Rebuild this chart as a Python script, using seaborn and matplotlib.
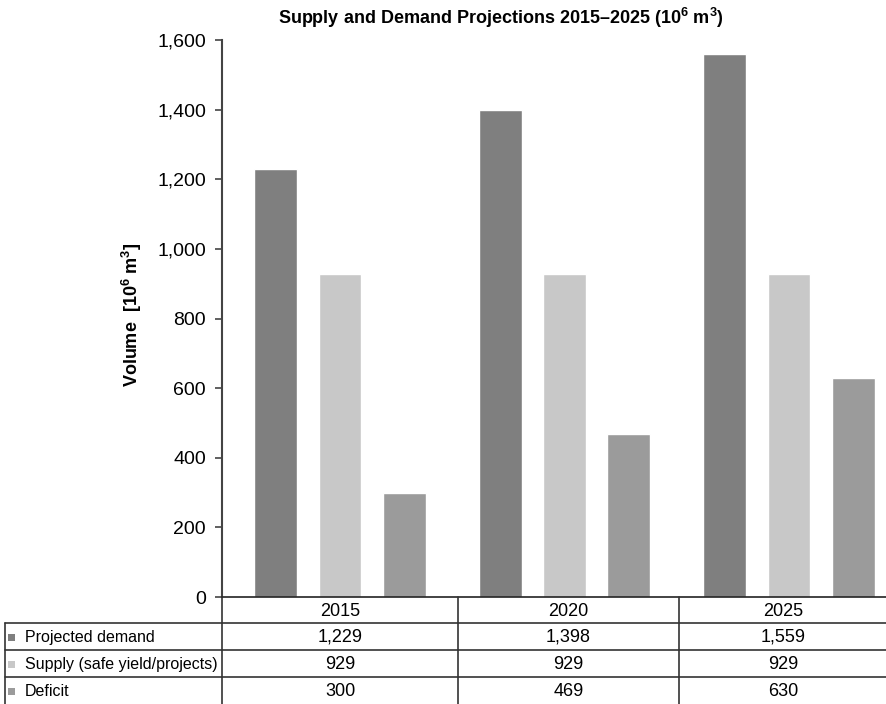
import numpy as np
import pandas as pd
import seaborn as sns
import matplotlib.pyplot as plt
from matplotlib.patches import Rectangle
from matplotlib.ticker import StrMethodFormatter

years = ["2015", "2020", "2025"]
series = ["Projected demand", "Supply (safe yield/projects)", "Deficit"]
demand = [1229, 1398, 1559]
supply = [929, 929, 929]
deficit = [300, 469, 630]
colors = ["#7f7f7f", "#c8c8c8", "#9b9b9b"]

values = [demand, supply, deficit]
df = pd.DataFrame(
    [(y, s, v) for s, vals in zip(series, values) for y, v in zip(years, vals)],
    columns=["Year", "Series", "Volume"],
)

sns.set_style("ticks")
plt.rcParams["font.family"] = ["Liberation Sans", "DejaVu Sans"]
plt.rcParams["text.color"] = "black"
plt.rcParams["ytick.labelcolor"] = "black"
plt.rcParams["mathtext.fontset"] = "custom"
plt.rcParams["mathtext.rm"] = "Liberation Sans"
plt.rcParams["mathtext.bf"] = "Liberation Sans:bold"

W, H = 887, 704
fig = plt.figure(figsize=(W / 100, H / 100), dpi=100)
ax = fig.add_axes([222 / W, 107 / H, 665 / W, 557 / H])

sns.barplot(
    data=df,
    x="Year",
    y="Volume",
    hue="Series",
    palette=colors,
    saturation=1,
    width=0.86,
    gap=0.335,
    legend=False,
    ax=ax,
)

ax.set_xlim(-0.526, 2.437)
ax.set_ylim(0, 1600)
ax.set_yticks(np.arange(0, 1601, 200))
ax.yaxis.set_major_formatter(StrMethodFormatter("{x:,.0f}"))
ax.tick_params(axis="y", labelsize=14, length=5, width=1.2, color="#444444", pad=6.5)
ax.tick_params(axis="x", bottom=False, labelbottom=False)
ax.set_xlabel("")
ax.set_ylabel("")
sns.despine(ax=ax, top=True, right=True)
ax.spines["left"].set_color("#444444")
ax.spines["left"].set_linewidth(1.5)
ax.spines["bottom"].set_color("#222222")
ax.spines["bottom"].set_linewidth(1.2)

fig.text(501 / W, 1 - 18 / H,
         r"Supply and Demand Projections 2015–2025 (10$^{\mathbf{6}}$ m$^{\mathbf{3}}$)",
         ha="center", va="center", fontsize=13, fontweight="bold")
fig.text(132 / W, 1 - 315 / H, r"Volume  [10$^{\mathbf{6}}$ m$^{\mathbf{3}}$]",
         ha="center", va="center", rotation=90, fontsize=13, fontweight="bold")

# data table below the chart
tab = fig.add_axes([0, 0, 1, 1])
tab.set_xlim(0, W)
tab.set_ylim(H, 0)
tab.axis("off")

col_edges = [222, 458, 679, 887]
row_edges = [597, 623, 650, 677, 704]
lc = "#333333"
for yy in row_edges[1:4]:
    tab.plot([5, 887], [yy, yy], color=lc, lw=1.2)
tab.plot([5, 5], [623, 704], color=lc, lw=1.2)
for xx in col_edges[:3]:
    tab.plot([xx, xx], [597, 704], color=lc, lw=1.2)

for j, yr in enumerate(years):
    cx = (col_edges[j] + col_edges[j + 1]) / 2
    tab.text(cx, (row_edges[0] + row_edges[1]) / 2 + 1, yr,
             ha="center", va="center", fontsize=13)
    for i, vals in enumerate(values):
        cy = (row_edges[i + 1] + row_edges[i + 2]) / 2 + 1
        tab.text(cx, cy, f"{vals[j]:,}", ha="center", va="center", fontsize=13)

for i, (name, c) in enumerate(zip(series, colors)):
    cy = (row_edges[i + 1] + row_edges[i + 2]) / 2
    tab.add_patch(Rectangle((8, cy - 3), 7, 7, facecolor=c, edgecolor="none"))
    tab.text(25, cy + 1, name, ha="left", va="center", fontsize=11.5)

fig.savefig("out.png", dpi=100)
